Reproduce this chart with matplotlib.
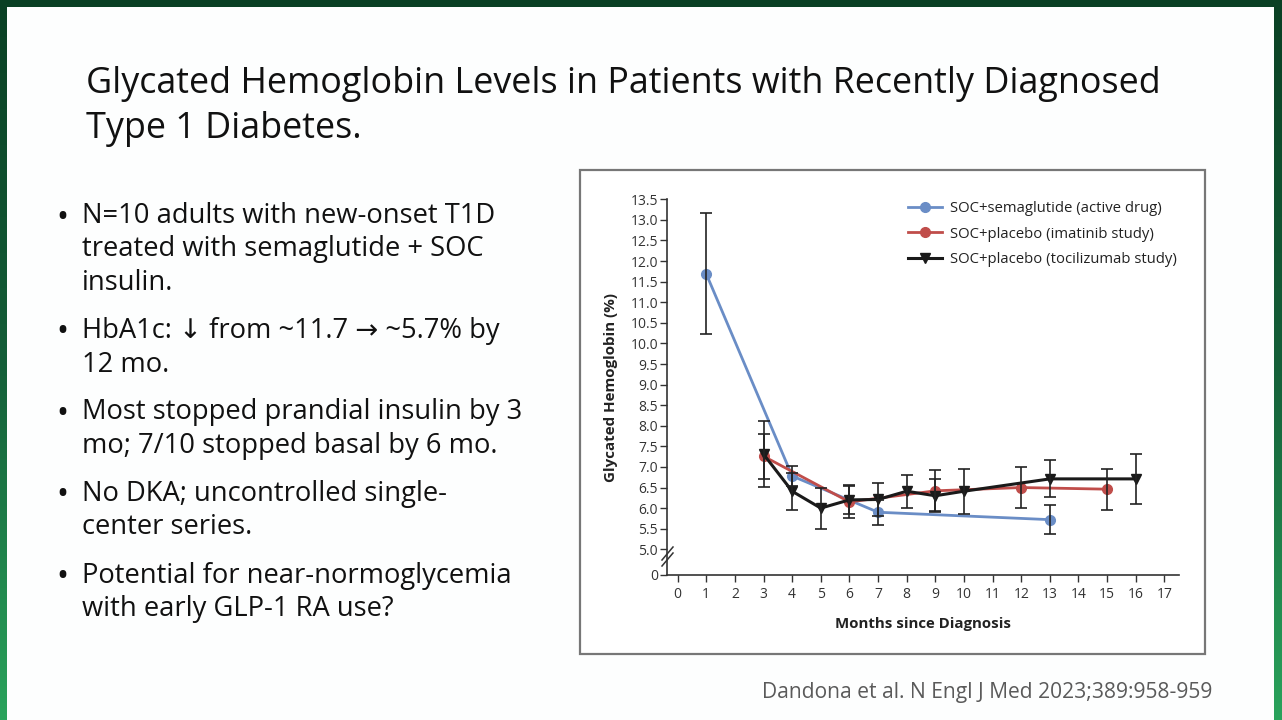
import numpy as np
import matplotlib
matplotlib.use("Agg")
import matplotlib.pyplot as plt
from matplotlib.patches import Rectangle
from matplotlib.lines import Line2D
from matplotlib.colors import LinearSegmentedColormap

# ---------------- data ----------------
sema_months = [1, 4, 7, 13]
sema_hba1c = [11.69, 6.78, 5.90, 5.72]
sema_err = [1.47, 0.24, 0.30, 0.36]

imat_months = [3, 6, 9, 12, 15]
imat_hba1c = [7.26, 6.15, 6.42, 6.50, 6.46]
imat_err = [0.55, 0.38, 0.50, 0.50, 0.50]

toci_months = [3, 4, 5, 6, 7, 8, 9, 10, 13, 16]
toci_hba1c = [7.31, 6.41, 6.00, 6.20, 6.21, 6.41, 6.30, 6.41, 6.71, 6.71]
toci_err = [0.80, 0.45, 0.50, 0.35, 0.40, 0.40, 0.40, 0.55, 0.45, 0.60]

series_labels = ["SOC+semaglutide (active drug)",
                 "SOC+placebo (imatinib study)",
                 "SOC+placebo (tocilizumab study)"]

x_ticks = list(range(0, 18))
y_ticks = [5.0 + 0.5 * i for i in range(18)]  # 5.0 .. 13.5
zero_pos = 4.383  # display position of the "0" after the axis break

title_lines = ["Glycated Hemoglobin Levels in Patients with Recently Diagnosed",
               "Type 1 Diabetes."]
bullets = [
    ["N=10 adults with new-onset T1D", "treated with semaglutide + SOC", "insulin."],
    ["HbA1c: \u2193 from ~11.7 \u2192 ~5.7% by", "12 mo."],
    ["Most stopped prandial insulin by 3", "mo; 7/10 stopped basal by 6 mo."],
    ["No DKA; uncontrolled single-", "center series."],
    ["Potential for near-normoglycemia", "with early GLP-1 RA use?"],
]
citation = "Dandona et al. N Engl J Med 2023;389:958-959"

# ---------------- figure ----------------
W, H = 1282, 720
fig = plt.figure(figsize=(W / 100, H / 100), dpi=100)

def fx(px):
    return px / W

def fy(py):
    return 1 - py / H

# green gradient background
bg = fig.add_axes([0, 0, 1, 1], zorder=-10)
bg.set_axis_off()
cmap = LinearSegmentedColormap.from_list("g", ["#0a4024", "#145e38", "#2aa35c"])
grad = np.linspace(0, 1, 256).reshape(-1, 1)
bg.imshow(grad, aspect="auto", cmap=cmap, extent=[0, 1, 0, 1], origin="upper")
bg.set_xlim(0, 1)
bg.set_ylim(0, 1)
bg.add_patch(Rectangle((fx(7), 0), fx(1274) - fx(7), fy(7), facecolor="#fdfefe",
                       edgecolor="none", transform=bg.transAxes))
# chart frame
bg.add_patch(Rectangle((fx(580), fy(654)), fx(1205) - fx(580), fy(170) - fy(654),
                       facecolor="white", edgecolor="#777777", linewidth=1.6,
                       transform=bg.transAxes))

slide_font = ["Open Sans", "DejaVu Sans"]
chart_font = ["Open Sans", "DejaVu Sans"]

# title
fig.text(fx(86), fy(93), title_lines[0], fontsize=25.8, family=slide_font,
         color="#111111", va="baseline", ha="left")
fig.text(fx(86), fy(138), title_lines[1], fontsize=25.8, family=slide_font,
         color="#111111", va="baseline", ha="left")

# bullets
y = 223
for para in bullets:
    fig.text(fx(62), fy(y - 9), "\u2022", fontsize=23, family=slide_font,
             color="#111111", va="center_baseline", ha="center")
    for line in para:
        fig.text(fx(82), fy(y), line, fontsize=19.7, family=slide_font,
                 color="#111111", va="baseline", ha="left")
        y += 33.5
    y += 14.5

# citation
fig.text(fx(762), fy(698), citation, fontsize=15.1, family=slide_font,
         color="#5a5a5a", va="baseline", ha="left")

# ---------------- chart ----------------
ax = fig.add_axes([fx(667), fy(574.7), fx(1179) - fx(667), fy(199.3) - fy(574.7)])
ax.set_facecolor("none")
ax.set_xlim(-0.37, 17.51)
ax.set_ylim(zero_pos, 13.5)

blue = "#6a8dc6"
red = "#c04d4a"
black = "#1a1a1a"

ax.plot(sema_months, sema_hba1c, color=blue, lw=2.0, marker="o", ms=7, zorder=3)
ax.plot(imat_months, imat_hba1c, color=red, lw=2.0, marker="o", ms=7, zorder=4)
ax.plot(toci_months, toci_hba1c, color=black, lw=2.2, marker="v", ms=7, zorder=5)

for xs, ys, es in [(sema_months, sema_hba1c, sema_err),
                   (imat_months, imat_hba1c, imat_err),
                   (toci_months, toci_hba1c, toci_err)]:
    ax.errorbar(xs, ys, yerr=es, fmt="none", ecolor="#222222", elinewidth=1.2,
                capsize=4, capthick=1.2, zorder=6)

ax.spines["top"].set_visible(False)
ax.spines["right"].set_visible(False)
for s in ("left", "bottom"):
    ax.spines[s].set_color("#333333")
    ax.spines[s].set_linewidth(1.2)

ax.set_xticks(x_ticks)
ax.set_xticklabels([str(v) for v in x_ticks])
ax.set_yticks([zero_pos] + y_ticks)
ax.set_yticklabels(["0"] + [f"{v:.1f}" for v in y_ticks])
ax.tick_params(axis="both", colors="#333333", labelcolor="#333333", labelsize=10,
               direction="out", length=5, width=1.0)
ax.tick_params(axis="y", pad=1.5)
ax.tick_params(axis="x", pad=3.5)
for lab in ax.get_xticklabels() + ax.get_yticklabels():
    lab.set_family(chart_font)

ax.set_xlabel("Months since Diagnosis", fontsize=10.8, fontweight="bold",
              family=chart_font, color="#222222", labelpad=11)
ax.set_ylabel("Glycated Hemoglobin (%)", fontsize=10.9, fontweight="bold",
              family=chart_font, color="#222222", labelpad=9)

# axis break marks
for dy in (0, 6):
    y0 = fy(566 - dy)
    y1 = fy(553 - dy)
    fig.add_artist(Line2D([fx(662), fx(673)], [y0, y1], color="#333333", lw=1.1,
                          transform=fig.transFigure, zorder=10))

# legend
handles = [Line2D([], [], color=blue, lw=2.0, marker="o", ms=7),
           Line2D([], [], color=red, lw=2.0, marker="o", ms=7),
           Line2D([], [], color=black, lw=2.2, marker="v", ms=7)]
leg = ax.legend(handles, series_labels, loc="upper left",
                bbox_to_anchor=(fx(908), fy(201)), bbox_transform=fig.transFigure,
                frameon=False, fontsize=10.7, handlelength=2.3, handletextpad=0.5,
                labelspacing=0.72, borderpad=0, borderaxespad=0)
for t in leg.get_texts():
    t.set_family(chart_font)
    t.set_color("#222222")

fig.savefig("out.png", dpi=100)
